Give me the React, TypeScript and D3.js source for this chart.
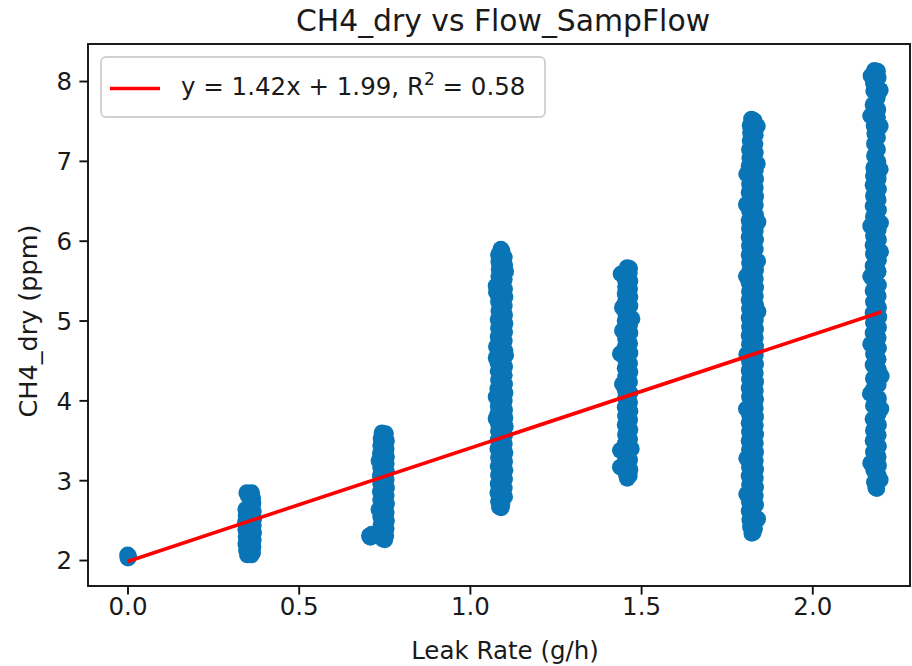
import React from 'react';
import * as d3 from 'd3';

// ---------- data ----------
const chartTitle = 'CH4_dry vs Flow_SampFlow';
const xAxisLabel = 'Leak Rate (g/h)';
const yAxisLabel = 'CH4_dry (ppm)';
const xTickValues = [0, 0.5, 1.0, 1.5, 2.0];
const yTickValues = [2, 3, 4, 5, 6, 7, 8];
const fitSlope = 1.42;
const fitIntercept = 1.99;
const fitR2 = 0.58;

// points per leak-rate group: [leak rate, CH4_dry]
const leak0: number[][] = [
  [0.0, 2.03], [0.002, 2.05], [-0.001, 2.07], [0.001, 2.04], [0.0, 2.06],
];
const leak1: number[][] = [
  [0.347, 2.85], [0.361, 2.85], [0.351, 2.81], [0.364, 2.78], [0.365, 2.72], [0.363, 2.67],
  [0.344, 2.64], [0.366, 2.61], [0.345, 2.56], [0.367, 2.52], [0.343, 2.48], [0.366, 2.44],
  [0.344, 2.39], [0.367, 2.35], [0.345, 2.3], [0.366, 2.26], [0.344, 2.21], [0.365, 2.17],
  [0.346, 2.13], [0.364, 2.1], [0.349, 2.07], [0.36, 2.07],
];
const leak2: number[][] = [
  [0.742, 3.6], [0.752, 3.59], [0.739, 3.53], [0.755, 3.5], [0.738, 3.44], [0.754, 3.4],
  [0.737, 3.34], [0.755, 3.3], [0.733, 3.25], [0.754, 3.21], [0.738, 3.16], [0.755, 3.11],
  [0.737, 3.06], [0.754, 3.01], [0.738, 2.96], [0.755, 2.91], [0.737, 2.86], [0.754, 2.81],
  [0.738, 2.76], [0.755, 2.71], [0.733, 2.64], [0.754, 2.6], [0.738, 2.55], [0.755, 2.5],
  [0.739, 2.45], [0.754, 2.4], [0.74, 2.35], [0.753, 2.31], [0.744, 2.27], [0.75, 2.26],
  [0.705, 2.31], [0.712, 2.33], [0.708, 2.29],
];
const leak3: number[][] = [
  [1.089, 5.9], [1.092, 5.88], [1.082, 5.83], [1.099, 5.8], [1.083, 5.74], [1.1, 5.7],
  [1.084, 5.65], [1.103, 5.62], [1.083, 5.56], [1.099, 5.52], [1.075, 5.44], [1.1, 5.4],
  [1.076, 5.36], [1.101, 5.3], [1.082, 5.24], [1.099, 5.19], [1.083, 5.13], [1.1, 5.08],
  [1.081, 5.02], [1.101, 4.97], [1.082, 4.91], [1.1, 4.86], [1.081, 4.8], [1.099, 4.75],
  [1.076, 4.68], [1.101, 4.63], [1.075, 4.54], [1.103, 4.57], [1.08, 4.48], [1.1, 4.43],
  [1.081, 4.37], [1.099, 4.32], [1.082, 4.26], [1.1, 4.21], [1.08, 4.15], [1.101, 4.1],
  [1.075, 4.05], [1.099, 4.0], [1.081, 3.94], [1.1, 3.89], [1.075, 3.78], [1.08, 3.84],
  [1.101, 3.79], [1.081, 3.72], [1.102, 3.68], [1.082, 3.62], [1.1, 3.57], [1.081, 3.51],
  [1.099, 3.46], [1.08, 3.4], [1.101, 3.35], [1.082, 3.29], [1.1, 3.24], [1.081, 3.18],
  [1.101, 3.13], [1.082, 3.07], [1.1, 3.02], [1.081, 2.96], [1.099, 2.91], [1.08, 2.85],
  [1.1, 2.8], [1.082, 2.74], [1.092, 2.7], [1.085, 2.67], [1.09, 2.66],
];
const leak4: number[][] = [
  [1.458, 5.67], [1.465, 5.66], [1.44, 5.59], [1.464, 5.6], [1.452, 5.52], [1.466, 5.5],
  [1.453, 5.43], [1.465, 5.4], [1.452, 5.34], [1.466, 5.3], [1.453, 5.24], [1.444, 5.17],
  [1.466, 5.19], [1.453, 5.1], [1.472, 5.03], [1.452, 5.0], [1.465, 4.95], [1.444, 4.88],
  [1.466, 4.85], [1.453, 4.78], [1.465, 4.72], [1.452, 4.68], [1.438, 4.59], [1.466, 4.6],
  [1.453, 4.52], [1.465, 4.47], [1.452, 4.41], [1.466, 4.36], [1.453, 4.3], [1.444, 4.21],
  [1.465, 4.24], [1.452, 4.14], [1.466, 4.1], [1.453, 4.04], [1.465, 3.98], [1.452, 3.92],
  [1.466, 3.87], [1.453, 3.81], [1.465, 3.76], [1.452, 3.7], [1.466, 3.64], [1.453, 3.58],
  [1.465, 3.52], [1.452, 3.46], [1.438, 3.38], [1.47, 3.4], [1.452, 3.31], [1.465, 3.26],
  [1.438, 3.17], [1.452, 3.2], [1.466, 3.14], [1.455, 3.08], [1.464, 3.06], [1.458, 3.03],
];
const leak5: number[][] = [
  [1.821, 7.53], [1.829, 7.51], [1.817, 7.45], [1.838, 7.44], [1.818, 7.36], [1.832, 7.33],
  [1.817, 7.26], [1.831, 7.22], [1.815, 7.15], [1.832, 7.11], [1.816, 7.04], [1.838, 6.97],
  [1.814, 6.94], [1.832, 6.89], [1.807, 6.84], [1.833, 6.78], [1.815, 6.72], [1.832, 6.67],
  [1.814, 6.61], [1.833, 6.56], [1.806, 6.46], [1.832, 6.45], [1.815, 6.38], [1.833, 6.33],
  [1.84, 6.24], [1.814, 6.26], [1.815, 6.16], [1.832, 6.13], [1.814, 6.05], [1.833, 6.02],
  [1.815, 5.94], [1.832, 5.9], [1.814, 5.83], [1.839, 5.75], [1.815, 5.73], [1.806, 5.56],
  [1.833, 5.64], [1.815, 5.62], [1.832, 5.53], [1.814, 5.48], [1.833, 5.42], [1.815, 5.37],
  [1.832, 5.31], [1.814, 5.26], [1.833, 5.2], [1.84, 5.12], [1.815, 5.15], [1.814, 5.04],
  [1.832, 5.01], [1.815, 4.93], [1.833, 4.9], [1.814, 4.82], [1.832, 4.79], [1.815, 4.71],
  [1.833, 4.68], [1.807, 4.58], [1.832, 4.57], [1.815, 4.49], [1.833, 4.46], [1.814, 4.38],
  [1.832, 4.35], [1.815, 4.27], [1.833, 4.24], [1.814, 4.16], [1.832, 4.13], [1.815, 4.05],
  [1.833, 4.02], [1.806, 3.9], [1.832, 3.91], [1.815, 3.83], [1.833, 3.8], [1.814, 3.72],
  [1.832, 3.69], [1.815, 3.61], [1.833, 3.58], [1.814, 3.5], [1.832, 3.47], [1.815, 3.39],
  [1.833, 3.36], [1.807, 3.28], [1.832, 3.25], [1.815, 3.17], [1.833, 3.14], [1.814, 3.06],
  [1.832, 3.03], [1.815, 2.95], [1.833, 2.92], [1.807, 2.83], [1.832, 2.81], [1.815, 2.73],
  [1.833, 2.7], [1.814, 2.62], [1.839, 2.52], [1.816, 2.51], [1.818, 2.42], [1.83, 2.4],
  [1.822, 2.34], [1.826, 2.35],
];
const leak6: number[][] = [
  [2.18, 8.14], [2.189, 8.13], [2.17, 8.07], [2.191, 8.05], [2.177, 7.98], [2.197, 7.89],
  [2.178, 7.88], [2.188, 7.79], [2.176, 7.71], [2.19, 7.65], [2.169, 7.57], [2.189, 7.55],
  [2.197, 7.44], [2.179, 7.45], [2.181, 7.35], [2.189, 7.3], [2.18, 7.22], [2.189, 7.15],
  [2.18, 7.07], [2.19, 7.0], [2.197, 6.9], [2.178, 6.92], [2.177, 6.82], [2.191, 6.78],
  [2.176, 6.7], [2.192, 6.65], [2.177, 6.57], [2.191, 6.52], [2.176, 6.44], [2.192, 6.39],
  [2.177, 6.31], [2.198, 6.23], [2.169, 6.19], [2.191, 6.14], [2.177, 6.07], [2.192, 6.02],
  [2.176, 5.95], [2.198, 5.87], [2.177, 5.84], [2.192, 5.76], [2.176, 5.69], [2.169, 5.56],
  [2.191, 5.62], [2.177, 5.52], [2.192, 5.45], [2.176, 5.38], [2.191, 5.31], [2.177, 5.24],
  [2.192, 5.17], [2.176, 5.1], [2.193, 5.05], [2.177, 4.98], [2.192, 4.92], [2.176, 4.85],
  [2.191, 4.79], [2.169, 4.71], [2.192, 4.66], [2.177, 4.59], [2.191, 4.52], [2.176, 4.45],
  [2.192, 4.39], [2.2, 4.31], [2.177, 4.28], [2.191, 4.2], [2.176, 4.14], [2.168, 4.09],
  [2.192, 4.03], [2.199, 3.9], [2.177, 3.94], [2.191, 3.84], [2.176, 3.77], [2.192, 3.7],
  [2.177, 3.63], [2.191, 3.57], [2.176, 3.5], [2.192, 3.43], [2.177, 3.36], [2.191, 3.3],
  [2.169, 3.22], [2.192, 3.19], [2.178, 3.13], [2.191, 3.07], [2.197, 3.01], [2.18, 2.98],
  [2.184, 2.91], [2.187, 2.9],
];
const leakGroups = [leak0, leak1, leak2, leak3, leak4, leak5, leak6];

// ---------- layout ----------
const W = 912;
const H = 666;
const AX = { left: 88, right: 910, top: 44, bottom: 586 };
const FONT = 'DejaVu Sans, sans-serif';
const POINT_COLOR = '#0a75b6';
const TEXT_COLOR = '#1a1a1a';

export default function App() {
  const x = d3.scaleLinear().domain([-0.1168, 2.2839]).range([AX.left, AX.right]);
  const y = d3.scaleLinear().domain([1.681, 8.47]).range([AX.bottom, AX.top]);

  const allPts = leakGroups.flat();
  const [xMin, xMax] = d3.extent(allPts, (d) => d[0]) as [number, number];
  const fitPts: [number, number][] = [
    [xMin, fitSlope * xMin + fitIntercept],
    [xMax, fitSlope * xMax + fitIntercept],
  ];
  const linePath = d3
    .line<[number, number]>()
    .x((d) => x(d[0]))
    .y((d) => y(d[1]))(fitPts) as string;

  const legendText = `y = ${fitSlope.toFixed(2)}x + ${fitIntercept.toFixed(2)}, R`;

  return (
    <svg
      width={W}
      height={H}
      style={{ position: 'absolute', left: 0, top: 0, background: '#fff' }}
      fontFamily={FONT}
    >
      <rect x={0} y={0} width={W} height={H} fill="#fff" />
      {/* points */}
      <g>
        {allPts.map((d, i) => (
          <circle key={i} cx={x(d[0])} cy={y(d[1])} r={8.4} fill={POINT_COLOR} />
        ))}
      </g>
      {/* regression line */}
      <path d={linePath} fill="none" stroke="#ff0000" strokeWidth={3.6} />

      {/* spines */}
      <rect
        x={AX.left}
        y={AX.top}
        width={AX.right - AX.left}
        height={AX.bottom - AX.top}
        fill="none"
        stroke="#111"
        strokeWidth={1.9}
      />

      {/* x ticks */}
      {xTickValues.map((t) => (
        <g key={'xt' + t}>
          <line x1={x(t)} x2={x(t)} y1={AX.bottom} y2={AX.bottom + 8.6} stroke="#111" strokeWidth={1.9} />
          <text x={x(t)} y={615} textAnchor="middle" fontSize={24.5} fill={TEXT_COLOR}>
            {t.toFixed(1)}
          </text>
        </g>
      ))}
      {/* y ticks */}
      {yTickValues.map((t) => (
        <g key={'yt' + t}>
          <line x1={AX.left - 8.6} x2={AX.left} y1={y(t)} y2={y(t)} stroke="#111" strokeWidth={1.9} />
          <text x={AX.left - 16} y={y(t)} dy="0.36em" textAnchor="end" fontSize={24.5} fill={TEXT_COLOR}>
            {String(t)}
          </text>
        </g>
      ))}

      {/* axis labels */}
      <text x={505} y={659} textAnchor="middle" fontSize={24.5} fill={TEXT_COLOR}>
        {xAxisLabel}
      </text>
      <text
        transform={`translate(37, 321) rotate(-90)`}
        textAnchor="middle"
        fontSize={25.5}
        fill={TEXT_COLOR}
      >
        {yAxisLabel}
      </text>

      {/* title */}
      <text x={503} y={31} textAnchor="middle" fontSize={29.8} fill={TEXT_COLOR}>
        {chartTitle}
      </text>

      {/* legend */}
      <g>
        <rect x={101} y={57} width={444} height={60} rx={5} fill="#fff" fillOpacity={0.8} stroke="#d0d0d0" strokeWidth={1.8} />
        <line x1={110} x2={160} y1={88.5} y2={88.5} stroke="#ff0000" strokeWidth={3.6} />
        <text x={181} y={95} fontSize={24.5} fill={TEXT_COLOR} style={{ whiteSpace: 'pre' }}>
          {legendText}
          <tspan fontSize={17} dy={-10}>2</tspan>
          <tspan fontSize={24.5} dy={10}>{` = ${fitR2.toFixed(2)}`}</tspan>
        </text>
      </g>
    </svg>
  );
}
